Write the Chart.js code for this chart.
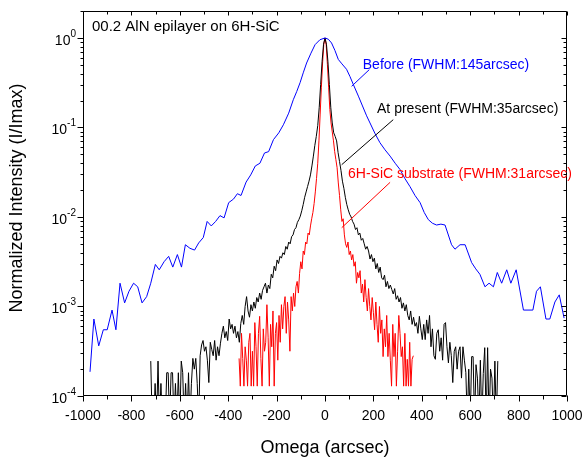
<!DOCTYPE html>
<html>
<head>
<meta charset="utf-8">
<script src="https://cdn.jsdelivr.net/npm/chart.js@4/dist/chart.umd.min.js"></script>
<style>
  html, body { margin: 0; padding: 0; background: #ffffff; }
  canvas { display: block; }
</style>
</head>
<body>
<canvas id="c" width="583" height="462"></canvas>
<script>
// ---------------- data ----------------
// Omega in arcsec; intensities stored as log10(I/Imax)
const blueOmega = [-971,-955,-935,-916,-900,-880,-864,-847,-828,-810,-791,-774,-756,-737,-720,-701,-685,-665,-646,-629,-610,-593,-577,-558,-539,-522,-503,-487,-470,-452,-434,-417,-398,-378,-362,-347,-326,-307,-288,-269,-250,-233,-213,-191,-172,-150,-131,-117,-103,-90,-76,-58,-41,-21,0,14,27,41,55,70,89,103,117,138,155,172,186,207,227,248,269,290,310,330,351,372,393,410,427,444,461,479,496,523,537,558,579,606,623,640,661,678,696,712,730,751,768,790,820,859,874,890,913,929,950,968,988];
const blueLog10 = [-3.73,-3.14,-3.44,-3.26,-3.26,-3.04,-3.26,-2.74,-2.96,-2.83,-2.74,-2.78,-2.96,-2.89,-2.74,-2.53,-2.59,-2.50,-2.44,-2.56,-2.42,-2.56,-2.31,-2.35,-2.37,-2.29,-2.23,-2.05,-2.10,-2.05,-1.985,-2.01,-1.84,-1.80,-1.74,-1.76,-1.61,-1.53,-1.43,-1.40,-1.285,-1.27,-1.136,-1.06,-0.97,-0.84,-0.69,-0.60,-0.50,-0.39,-0.28,-0.17,-0.075,-0.02,0,-0.015,-0.056,-0.14,-0.24,-0.29,-0.35,-0.43,-0.52,-0.65,-0.76,-0.87,-0.95,-1.07,-1.17,-1.25,-1.32,-1.40,-1.47,-1.57,-1.66,-1.76,-1.84,-1.95,-2.03,-2.07,-2.09,-2.08,-2.09,-2.31,-2.36,-2.31,-2.31,-2.51,-2.58,-2.64,-2.78,-2.74,-2.78,-2.62,-2.74,-2.59,-2.74,-2.59,-3.04,-3.04,-2.83,-2.78,-3.14,-3.14,-2.95,-2.87,-3.13];

const blackOmega = [
-720,-714,-708,-702,-696,-690,-684,-678,-672,-666,
-660,-654,-648,-642,-636,-630,-624,-618,-612,-606,
-600,-594,-588,-582,-576,-570,-564,-558,-552,-546,
-540,-534,-528,-522,-516,-510,-504,-498,-492,-486,
-480,-474,-468,-462,-456,-450,-444,-438,-432,-426,
-420,-414,-408,-402,-396,-390,-384,-378,-372,-366,
-360,-354,-348,-342,-336,-330,-324,-318,-312,-306,
-300,-294,-288,-282,-276,-270,-264,-258,-252,-246,
-240,-234,-228,-222,-216,-210,-204,-198,-192,-186,
-180,-174,-168,-162,-156,-150,-144,-138,-132,-126,
-120,-114,-108,-102,-96,-90,-84,-78,-72,-66,
-60,-54,-48,-42,-36,-30,-24,-18,-12,-6,
0,6,12,18,24,30,36,42,48,54,
60,66,72,78,84,90,96,102,108,114,
120,126,132,138,144,150,156,162,168,174,
180,186,192,198,204,210,216,222,228,234,
240,246,252,258,264,270,276,282,288,294,
300,306,312,318,324,330,336,342,348,354,
360,366,372,378,384,390,396,402,408,414,
420,426,432,438,444,450,456,462,468,474,
480,486,492,498,504,510,516,522,528,534,
540,546,552,558,564,570,576,582,588,594,
600,606,612,618,624,630,636,642,648,654,
660,666,672,678,684,690,696,702,708,714];
const blackLog10 = [
-3.61,-4.3,-4.3,-3.86,-4.3,-3.61,-4.3,-3.86,-4.3,-4.3,
-4.3,-3.74,-3.74,-4.3,-3.74,-3.74,-4.3,-3.86,-4.3,-3.74,
-4.3,-3.61,-3.74,-4.3,-3.86,-4.3,-3.74,-4.3,-3.86,-3.58,
-3.70,-3.58,-3.86,-4.3,-3.55,-3.43,-3.38,-3.50,-3.45,-3.60,
-3.85,-3.40,-3.48,-3.55,-3.38,-3.60,-3.45,-3.55,-3.41,-3.30,
-3.22,-3.35,-3.28,-3.38,-3.14,-3.25,-3.20,-3.30,-3.22,-3.35,
-3.28,-3.40,-3.19,-3.10,-3.20,-3.00,-2.89,-3.05,-3.12,-2.98,
-3.05,-2.95,-3.02,-2.90,-2.95,-2.85,-2.92,-2.82,-2.78,-2.74,
-2.85,-2.76,-2.80,-2.64,-2.68,-2.55,-2.60,-2.48,-2.52,-2.44,
-2.46,-2.40,-2.42,-2.33,-2.36,-2.28,-2.30,-2.22,-2.20,-2.14,
-2.12,-2.06,-2.03,-1.99,-1.93,-1.86,-1.78,-1.72,-1.66,-1.60,
-1.53,-1.43,-1.32,-1.20,-1.10,-0.98,-0.78,-0.52,-0.26,-0.07,
0,-0.07,-0.26,-0.52,-0.78,-0.95,-1.06,-1.10,-1.15,-1.28,
-1.38,-1.48,-1.60,-1.68,-1.78,-1.86,-1.92,-1.97,-2.00,-2.05,
-2.08,-2.14,-2.12,-2.20,-2.18,-2.26,-2.24,-2.30,-2.36,-2.33,
-2.38,-2.47,-2.42,-2.50,-2.46,-2.58,-2.52,-2.62,-2.56,-2.68,
-2.70,-2.65,-2.78,-2.72,-2.80,-2.76,-2.81,-2.86,-2.80,-2.92,
-2.88,-2.95,-2.90,-3.02,-2.96,-3.05,-2.98,-3.10,-3.15,-3.05,
-3.20,-3.12,-3.22,-3.18,-3.30,-3.11,-3.25,-3.37,-3.20,-3.37,
-3.15,-3.30,-3.10,-3.45,-3.25,-3.55,-3.59,-3.30,-3.26,-3.50,
-3.35,-3.60,-3.20,-3.18,-3.45,-3.63,-3.40,-3.55,-3.85,-3.50,
-3.45,-3.70,-3.50,-3.45,-3.80,-3.45,-3.60,-3.74,-4.3,-3.70,
-4.3,-3.56,-3.56,-4.3,-3.65,-3.80,-4.3,-3.60,-4.3,-3.75,
-3.46,-4.3,-3.46,-4.3,-3.70,-3.80,-4.3,-3.61,-4.3,-3.61];

const redOmega = [
-355,-350,-345,-340,-335,-330,-325,-320,-315,-310,
-305,-300,-295,-290,-285,-280,-275,-270,-265,-260,
-255,-250,-245,-240,-235,-230,-225,-220,-215,-210,
-205,-200,-195,-190,-185,-180,-175,-170,-165,-160,
-155,-150,-145,-140,-135,-130,-125,-120,-115,-110,
-105,-100,-95,-90,-85,-80,-75,-70,-65,-60,
-55,-50,-45,-40,-35,-30,-25,-20,-15,-10,
-5,0,5,10,15,20,25,30,35,40,
45,50,55,60,65,70,75,80,85,90,
95,100,105,110,115,120,125,130,135,140,
145,150,155,160,165,170,175,180,185,190,
195,200,205,210,215,220,225,230,235,240,
245,250,255,260,265,270,275,280,285,290,
295,300,305,310,315,320,325,330,335,340,
345,350,355,360,365];
const redLog10 = [
-3.58,-3.89,-3.30,-3.58,-3.89,-3.45,-3.60,-3.89,-3.40,-3.30,
-3.89,-3.50,-3.89,-3.18,-3.45,-3.89,-3.30,-3.11,-3.58,-3.89,
-3.25,-3.50,-3.40,-2.98,-3.35,-3.89,-3.20,-3.45,-3.05,-3.89,
-3.30,-3.18,-3.60,-3.10,-3.40,-2.98,-3.25,-3.00,-2.89,-3.30,
-2.95,-3.15,-3.50,-2.89,-3.05,-2.85,-3.00,-2.78,-2.72,-2.85,
-2.63,-2.50,-2.58,-2.38,-2.42,-2.28,-2.30,-2.18,-2.20,-2.10,
-2.02,-1.95,-1.85,-1.72,-1.57,-1.40,-1.15,-0.85,-0.55,-0.28,
-0.07,0,-0.08,-0.30,-0.55,-0.80,-0.95,-1.05,-1.15,-1.27,
-1.36,-1.45,-1.62,-1.76,-1.92,-2.05,-2.02,-2.20,-2.30,-2.34,
-2.28,-2.42,-2.38,-2.48,-2.42,-2.55,-2.50,-2.74,-2.62,-2.68,
-2.60,-2.85,-2.75,-2.95,-2.70,-2.90,-3.05,-2.80,-3.00,-3.15,
-2.90,-3.07,-3.26,-2.95,-3.20,-3.40,-3.00,-3.30,-3.15,-3.56,
-3.25,-3.45,-3.10,-3.56,-3.30,-3.60,-3.89,-3.20,-3.56,-3.30,
-3.89,-3.50,-3.10,-3.30,-3.56,-3.45,-3.89,-3.30,-3.89,-3.59,
-3.89,-3.40,-3.89,-3.59,-3.55];

const xTickValues = [-1000,-800,-600,-400,-200,0,200,400,600,800,1000];
const yTickExponents = [-4,-3,-2,-1,0];

const seriesNames = ['Before (FWHM:145arcsec)', 'At present (FWHM:35arcsec)', '6H-SiC substrate (FWHM:31arcsec)'];
const seriesColors = ['#0000ff', '#000000', '#ff0000'];
const plotTitle = '00.2 AlN epilayer on 6H-SiC';
const xTitle = 'Omega (arcsec)';
const yTitle = 'Normalized Intensity (I/Imax)';

// ---------------- layout / style ----------------
const FONT = 'Arial, "Liberation Sans", sans-serif';

// label anchors (data coordinates)
const labelAnchors = [
  { text: seriesNames[0], color: seriesColors[0], x: 156, y: 0.50, from: [183, -0.354], to: [110, -0.54] },
  { text: seriesNames[1], color: seriesColors[1], x: 215, y: Math.pow(10, -0.80), from: [282, -0.913], to: [69, -1.416] },
  { text: seriesNames[2], color: seriesColors[2], x: 95,  y: Math.pow(10, -1.527), from: [269, -1.613], to: [69, -2.12] }
];

function toPoints(xs, logs) {
  return xs.map((v, i) => ({ x: v, y: Math.pow(10, logs[i]) }));
}

const decorPlugin = {
  id: 'decor',
  afterDraw(chart) {
    const { ctx, chartArea: a, scales: { x, y } } = chart;
    ctx.save();
    ctx.strokeStyle = '#000';
    ctx.lineWidth = 1;
    const L = Math.round(a.left) + 0.5, R = Math.round(a.right) - 0.5;
    const T = Math.round(a.top) + 0.5, B = Math.round(a.bottom) - 0.5;
    ctx.beginPath();
    ctx.rect(L, T, R - L, B - T);
    // x ticks (majors from the tick list, minors halfway)
    for (let i = 0; i < xTickValues.length; i++) {
      const v = xTickValues[i];
      const px = Math.round(x.getPixelForValue(v)) + 0.5;
      ctx.moveTo(px, B); ctx.lineTo(px, B + 6);
      ctx.moveTo(px, T); ctx.lineTo(px, T + 4);
      if (i < xTickValues.length - 1) {
        const m = (v + xTickValues[i + 1]) / 2;
        const pm = Math.round(x.getPixelForValue(m)) + 0.5;
        ctx.moveTo(pm, B); ctx.lineTo(pm, B + 4);
        ctx.moveTo(pm, T); ctx.lineTo(pm, T + 3);
      }
    }
    // y ticks
    for (const e of yTickExponents) {
      for (let k = 1; k <= 9; k++) {
        const v = k * Math.pow(10, e);
        if (v > y.max * 1.0001) break;
        const py = Math.round(y.getPixelForValue(v)) + 0.5;
        const len = k === 1 ? 6 : 3;
        ctx.moveTo(L, py); ctx.lineTo(L - len, py);
        ctx.moveTo(R, py); ctx.lineTo(R - (k === 1 ? 5 : 3), py);
      }
    }
    ctx.stroke();

    // y tick labels 10^n
    ctx.fillStyle = '#000';
    for (const e of yTickExponents) {
      const py = y.getPixelForValue(Math.pow(10, e));
      const base = '10', sup = String(e);
      ctx.font = '14px ' + FONT;
      const wb = ctx.measureText(base).width;
      ctx.font = '10px ' + FONT;
      const ws = ctx.measureText(sup).width;
      const xr = a.left - 7;
      ctx.textAlign = 'left';
      ctx.textBaseline = 'middle';
      ctx.font = '14px ' + FONT;
      ctx.fillText(base, xr - ws - wb, py + 3);
      ctx.font = '10px ' + FONT;
      ctx.fillText(sup, xr - ws, py - 4);
    }

    // axis titles
    ctx.font = '18px ' + FONT;
    ctx.textAlign = 'center';
    ctx.textBaseline = 'middle';
    ctx.fillText(xTitle, (a.left + a.right) / 2, 448);
    ctx.save();
    ctx.translate(17, 198);
    ctx.rotate(-Math.PI / 2);
    ctx.fillText(yTitle, 0, 0);
    ctx.restore();

    // plot title
    ctx.font = '15px ' + FONT;
    ctx.textAlign = 'left';
    ctx.fillText(plotTitle, x.getPixelForValue(-963), y.getPixelForValue(1.34));

    // series labels with leader lines
    ctx.font = '14px ' + FONT;
    for (const l of labelAnchors) {
      ctx.fillStyle = l.color;
      ctx.strokeStyle = l.color;
      ctx.fillText(l.text, x.getPixelForValue(l.x), y.getPixelForValue(l.y));
      ctx.beginPath();
      ctx.moveTo(x.getPixelForValue(l.from[0]), y.getPixelForValue(Math.pow(10, l.from[1])));
      ctx.lineTo(x.getPixelForValue(l.to[0]), y.getPixelForValue(Math.pow(10, l.to[1])));
      ctx.stroke();
    }
    ctx.restore();
  }
};

new Chart(document.getElementById('c'), {
  type: 'line',
  data: {
    datasets: [
      { label: seriesNames[0], data: toPoints(blueOmega, blueLog10), borderColor: seriesColors[0] },
      { label: seriesNames[1], data: toPoints(blackOmega, blackLog10), borderColor: seriesColors[1] },
      { label: seriesNames[2], data: toPoints(redOmega, redLog10), borderColor: seriesColors[2] }
    ]
  },
  options: {
    responsive: false,
    animation: false,
    devicePixelRatio: 1,
    layout: { padding: { top: 11, right: 16, left: 0, bottom: 0 } },
    plugins: { legend: { display: false }, tooltip: { enabled: false } },
    elements: {
      point: { radius: 0 },
      line: { borderWidth: 1, tension: 0, fill: false }
    },
    scales: {
      x: {
        type: 'linear', min: -1000, max: 1000,
        afterBuildTicks: s => { s.ticks = xTickValues.map(v => ({ value: v })); },
        ticks: { callback: v => String(v), color: '#000', font: { size: 14, family: FONT }, padding: 12, maxRotation: 0, autoSkip: false },
        grid: { display: false, drawTicks: false },
        border: { display: false },
        afterFit: s => { s.height = 66; s.paddingLeft = 0; s.paddingRight = 0; }
      },
      y: {
        type: 'logarithmic', min: 1e-4, max: 2,
        ticks: { display: false },
        grid: { display: false, drawTicks: false },
        border: { display: false },
        afterFit: s => { s.width = 83; s.paddingTop = 0; s.paddingBottom = 0; }
      }
    }
  },
  plugins: [decorPlugin]
});
</script>
</body>
</html>
